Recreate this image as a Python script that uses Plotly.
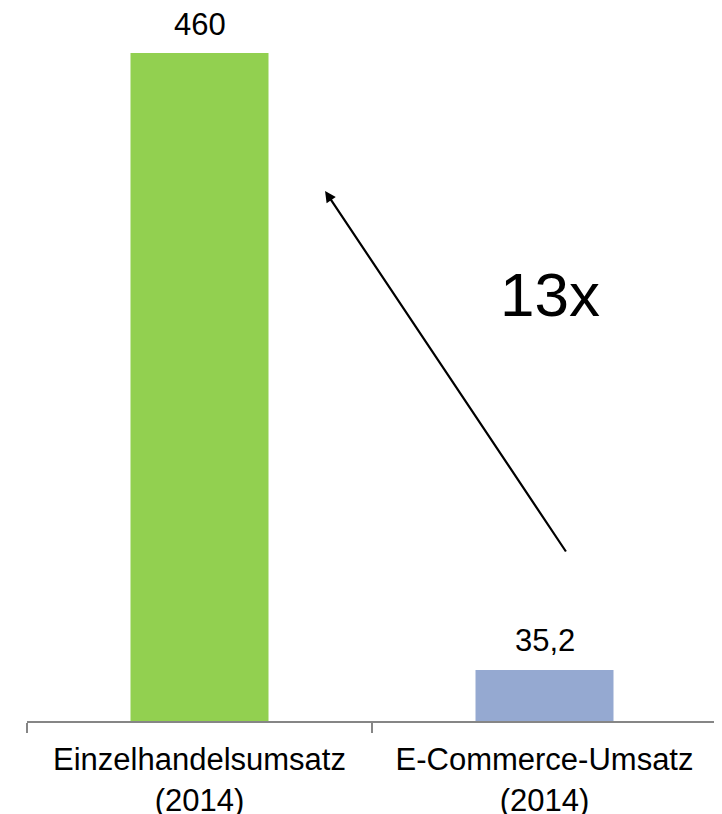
import plotly.graph_objects as go

categories = ["Einzelhandelsumsatz<br>(2014)", "E-Commerce-Umsatz<br>(2014)"]
values = [460, 35.2]
value_labels = ["460", "35,2"]
bar_colors = ["#92D050", "#95A9D1"]
multiplier_label = "13x"

W, H = 722, 814
OFF = 8  # page body margin
base_px = 721 - OFF
top_px = 53 - OFF
scale = (base_px - top_px) / values[0]
y_max = base_px / scale
FONT = "Liberation Sans, Arial"

fig = go.Figure()
fig.add_trace(go.Bar(
    x=categories, y=values, width=0.4,
    marker=dict(color=bar_colors, line=dict(width=0)),
    cliponaxis=False,
))

for c, v, lbl in zip(categories, values, value_labels):
    fig.add_annotation(
        x=c, y=v, xref="x", yref="y", text=lbl, showarrow=False,
        yanchor="middle", yshift=29,
        font=dict(family=FONT, size=31, color="#000000"),
    )

# arrow from small bar region up toward large bar
fig.add_annotation(
    x=0.364, y=(base_px - (191 - OFF)) / scale,
    ax=1.065, ay=(base_px - (553 - OFF)) / scale,
    xref="x", yref="y", axref="x", ayref="y",
    showarrow=True, arrowhead=2, arrowsize=1, arrowwidth=2.2, arrowcolor="#000000",
    text="",
)
fig.add_annotation(
    x=1.016, y=(base_px - (294 - OFF)) / scale, xref="x", yref="y",
    text=multiplier_label, showarrow=False,
    font=dict(family=FONT, size=62, color="#000000"),
)

fig.update_layout(
    width=W, height=H,
    margin=dict(l=27 - OFF, r=W - (717 - OFF), t=0, b=H - base_px, autoexpand=False),
    plot_bgcolor="white", paper_bgcolor="white",
    showlegend=False,
    xaxis=dict(
        type="category", range=[-0.5, 1.5], automargin=False,
        showline=True, linecolor="#868686", linewidth=2,
        ticks="outside", tickson="boundaries", ticklen=10, tickcolor="#868686", tickwidth=2,
        ticklabelstandoff=10,
        tickfont=dict(family=FONT, size=31, color="#000000"),
        showgrid=False, zeroline=False,
    ),
    yaxis=dict(range=[0, y_max], visible=False, showgrid=False, zeroline=False, automargin=False),
)

fig.write_html("out.html")
